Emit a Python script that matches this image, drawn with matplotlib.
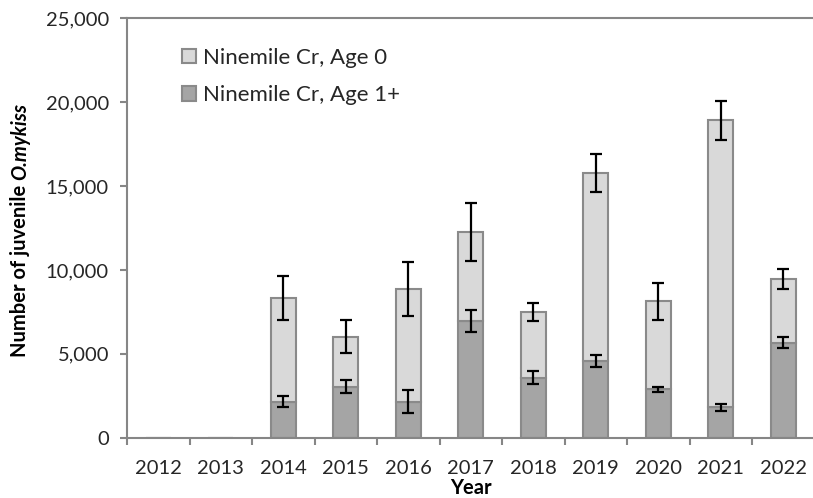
import matplotlib
matplotlib.use("Agg")
import matplotlib.pyplot as plt
import numpy as np

years = ["2012", "2013", "2014", "2015", "2016", "2017", "2018", "2019", "2020", "2021", "2022"]
age1 = [0, 0, 2150, 3040, 2150, 6980, 3580, 4580, 2880, 1810, 5670]
total = [0, 0, 8320, 6030, 8850, 12290, 7500, 15780, 8120, 18910, 9450]
age0 = [t - a for t, a in zip(total, age1)]
age1_err = [0, 0, 340, 380, 670, 650, 370, 350, 160, 200, 340]
total_err = [0, 0, 1300, 1000, 1600, 1730, 520, 1150, 1100, 1190, 600]

plt.rcParams['font.family'] = ['Lato', 'DejaVu Sans']

fig = plt.figure(figsize=(8.13, 4.98), dpi=100)
W, H = 813, 498
ax = fig.add_axes([127/W, 1 - 437.7/H, (814.5 - 127)/W, (437.7 - 18.3)/H])

x = np.arange(len(years))
axis_col = '#868686'
edge_col = '#8a8a8a'
light = '#d9d9d9'
dark = '#a5a5a5'
txt_col = '#262626'

ax.bar(x, age1, width=0.4, color=dark, edgecolor=edge_col, linewidth=1.5,
       label='Ninemile Cr, Age 1+', zorder=2)
ax.bar(x, age0, bottom=age1, width=0.4, color=light, edgecolor=edge_col, linewidth=1.5,
       label='Ninemile Cr, Age 0', zorder=2)

mask = np.array(total) > 0
ax.errorbar(x[mask], np.array(total)[mask], yerr=np.array(total_err)[mask], fmt='none',
            ecolor='black', elinewidth=1.6, capsize=4.3, capthick=1.6, zorder=3)
ax.errorbar(x[mask], np.array(age1)[mask], yerr=np.array(age1_err)[mask], fmt='none',
            ecolor='black', elinewidth=1.6, capsize=4.3, capthick=1.6, zorder=3)

ax.set_xlim(-0.5, len(years) - 0.5)
ax.set_ylim(0, 25000)
ax.set_yticks(np.arange(0, 25001, 5000))
ax.set_yticklabels([f"{v:,}" for v in range(0, 25001, 5000)], fontsize=14.5, color=txt_col)
ax.set_xticks(x)
ax.set_xticklabels(years, fontsize=14.5, color=txt_col)
ax.set_xticks(np.arange(-0.5, len(years), 1), minor=True)
ax.tick_params(axis='x', which='major', length=0, pad=16)
ax.tick_params(axis='x', which='minor', length=5, color=axis_col, width=1.5, direction='out')
ax.tick_params(axis='y', length=5, color=axis_col, width=1.5, direction='out', pad=8)

for s in ['left', 'bottom', 'top']:
    ax.spines[s].set_color(axis_col)
    ax.spines[s].set_linewidth(1.5)
ax.spines['right'].set_visible(False)

# y label: bold with bold-italic species name
ylab_x = 20 / W
ylab_bottom = 1 - 357 / H
t1 = fig.text(ylab_x, ylab_bottom, "Number of juvenile ", rotation=90, fontsize=14.5,
              fontweight='bold', ha='center', va='bottom', color='black')
fig.canvas.draw()
bb = t1.get_window_extent(fig.canvas.get_renderer())
top = bb.y1 / fig.bbox.height
fig.text(ylab_x, top, "O.mykiss", rotation=90, fontsize=14.5, fontweight='bold',
         fontstyle='italic', ha='center', va='bottom', color='black')

fig.text(470.5 / W, 1 - 488 / H, "Year", fontsize=14.5, fontweight='bold',
         ha='center', va='center', color='black')

handles, labels = ax.get_legend_handles_labels()
leg = ax.legend(handles[::-1], labels[::-1], loc='upper left', bbox_to_anchor=(0.057, 0.967),
                frameon=False, fontsize=16, handlelength=0.62, handleheight=0.62,
                handletextpad=0.35, labelspacing=0.8, borderpad=0.2)
for t in leg.get_texts():
    t.set_color(txt_col)

fig.savefig('out.png', dpi=100)
